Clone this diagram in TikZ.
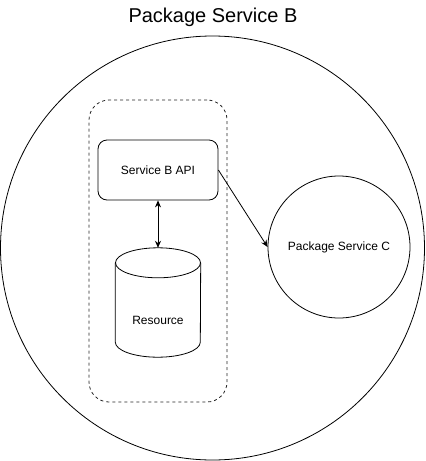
\documentclass[tikz,border=0pt]{standalone}
\usepackage{fontspec}
\setmainfont{Liberation Sans}
\usetikzlibrary{arrows.meta}
\begin{document}
\begin{tikzpicture}[x=1pt,y=-1pt,
  ln/.style={line width=0.8pt, draw=black},
  bigcirc/.style={ln, circle, inner sep=0pt, minimum size=424pt},
  smallcirc/.style={ln, circle, inner sep=0pt, minimum size=142pt, font=\fontsize{12}{14}\selectfont},
  grpbox/.style={line width=0.8pt, draw=black!85, dashed, dash pattern=on 3pt off 3pt, rounded corners=20pt, inner sep=0pt, minimum width=138pt, minimum height=302pt},
  apibox/.style={ln, rounded corners=9pt, inner sep=0pt, minimum width=120pt, minimum height=60pt, font=\fontsize{12}{14}\selectfont},
  cylbody/.style={inner sep=0pt, minimum width=85pt, minimum height=109pt},
  conn/.style={line width=0.8pt, -{Stealth[length=7pt,width=6pt]}},
  dconn/.style={line width=0.8pt, {Stealth[length=7pt,width=6pt]}-{Stealth[length=7pt,width=6pt]}},
  ttl/.style={font=\fontsize{20}{24}\selectfont, anchor=base, inner sep=0pt}
]
\useasboundingbox (0,0) rectangle (426,461);
\node[ttl] (title) at (213,22.5) {Package Service B};
\node[bigcirc] (outer) at (212.5,248) {};
\node[grpbox] (grp) at (158,251) {};
\node[apibox] (api) at (158,170) {Service B API};
\node[cylbody] (res) at (158,302.5) {};
\draw[ln] ([yshift=-15pt]res.north west) -- ([yshift=15pt]res.south west)
  arc[start angle=180, end angle=360, x radius=42.5pt, y radius=15pt]
  -- ([yshift=-15pt]res.north east);
\draw[ln] ([yshift=-15pt]res.north) ellipse[x radius=42.5pt, y radius=15pt];
\node[font=\fontsize{12}{14}\selectfont] (reslabel) at (158,320) {Resource};
\node[smallcirc] (pc) at (339,247) {Package Service C};
\draw[dconn] (api.south) -- (res.north);
\draw[conn] (api.east) -- (pc.west);
\end{tikzpicture}
\end{document}
